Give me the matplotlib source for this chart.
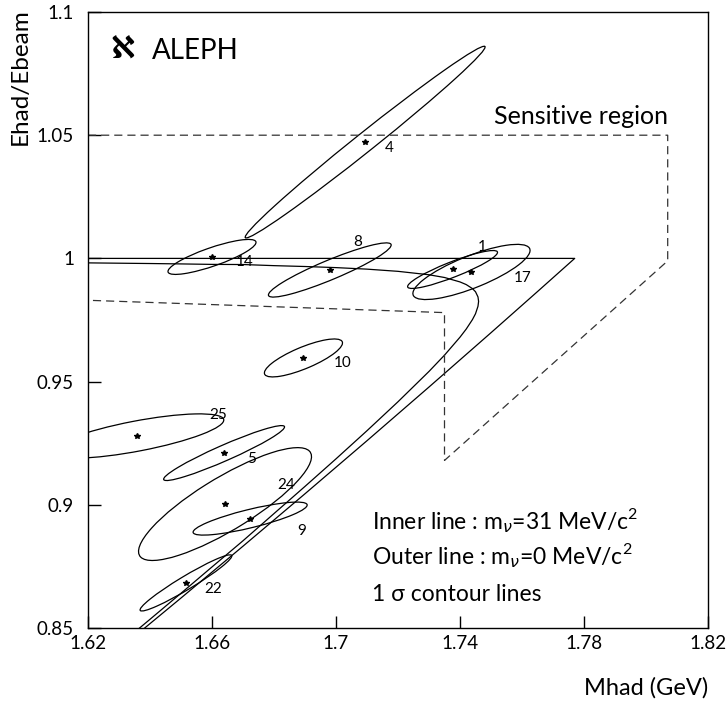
import numpy as np
import matplotlib
matplotlib.use("Agg")
import matplotlib.pyplot as plt
from matplotlib.patches import Ellipse

plt.rcParams['font.family'] = ['Lato', 'DejaVu Sans']
plt.rcParams['mathtext.fontset'] = 'custom'
plt.rcParams['mathtext.rm'] = 'Lato'
plt.rcParams['mathtext.it'] = 'DejaVu Sans:italic'

# ---- events: star = fit, ellipse = 1 sigma contour ----
ev_id = ['4', '14', '8', '1', '17', '10', '25', '5', '24', '9', '22']
ev_m = [1.7094, 1.6600, 1.6980, 1.7376, 1.7437, 1.6895, 1.6358, 1.6639, 1.6642, 1.6723, 1.6516]
ev_e = [1.0472, 1.0006, 0.9953, 0.9955, 0.9945, 0.9596, 0.9279, 0.9210, 0.9003, 0.8944, 0.8683]
ev_sm = [0.0387, 0.0142, 0.0198, 0.0145, 0.0189, 0.0126, 0.0280, 0.0195, 0.0279, 0.0184, 0.0148]
ev_se = [0.0389, 0.0071, 0.0110, 0.0077, 0.0112, 0.0077, 0.0090, 0.01115, 0.0229, 0.0067, 0.0114]
ev_rho = [0.992, 0.83, 0.92, 0.90, 0.78, 0.79, 0.72, 0.95, 0.84, 0.82, 0.96]
lab_m = [1.7171, 1.6706, 1.7071, 1.7471, 1.7603, 1.7023, 1.6619, 1.6729, 1.6839, 1.6890, 1.6603]
lab_e = [1.0448, 0.9985, 1.0067, 1.0046, 0.9920, 0.9575, 0.9364, 0.9186, 0.9080, 0.8894, 0.8658]

# ---- kinematic limits ----
# outer line: m_nu = 0
out_m = [1.62, 1.777, 1.765, 1.75, 1.73, 1.71, 1.69, 1.67, 1.65, 1.635]
out_e = [1.0, 1.0, 0.98654, 0.96984, 0.94780, 0.92601, 0.90448, 0.88320, 0.86217, 0.84657]
# inner line: m_nu = 31 MeV
in_m = [1.62, 1.64, 1.65, 1.66, 1.67, 1.68, 1.69, 1.70, 1.71, 1.72, 1.73, 1.735, 1.74, 1.742,
        1.744, 1.745, 1.7458, 1.746, 1.7458, 1.745, 1.744, 1.742, 1.74, 1.735, 1.73, 1.72,
        1.71, 1.70, 1.69, 1.68, 1.67, 1.66, 1.65, 1.64, 1.63]
in_e = [0.99818, 0.99792, 0.99776, 0.99757, 0.99751, 0.99706, 0.99671, 0.99626, 0.99564, 0.99475,
        0.99336, 0.99225, 0.99045, 0.98938, 0.98776, 0.98647, 0.98437, 0.98255, 0.98057, 0.97753,
        0.97514, 0.97131, 0.96803, 0.96073, 0.95413, 0.94182, 0.93007, 0.91865, 0.90747, 0.89644,
        0.88540, 0.87478, 0.86410, 0.85353, 0.84303]

# sensitive region (dashed)
sens_m = [1.62, 1.807, 1.807, 1.735, 1.735, 1.62]
sens_e = [1.05, 1.05, 0.999, 0.918, 0.978, 0.983]

fig = plt.figure(figsize=(7.26, 7.02), dpi=100)
ax = fig.add_axes([88/726, 74/702, 620/726, 616/702])

lw = 0.9
for i in range(len(ev_id)):
    cov = np.array([[ev_sm[i]**2, ev_rho[i]*ev_sm[i]*ev_se[i]],
                    [ev_rho[i]*ev_sm[i]*ev_se[i], ev_se[i]**2]])
    vals, vecs = np.linalg.eigh(cov)
    ang = np.degrees(np.arctan2(vecs[1, 1], vecs[0, 1]))
    ax.add_patch(Ellipse((ev_m[i], ev_e[i]), 2*np.sqrt(vals[1]), 2*np.sqrt(vals[0]),
                         angle=ang, fill=False, ec='black', lw=lw))
    ax.text(lab_m[i], lab_e[i], ev_id[i], fontsize=11, ha='center', va='center')

ax.plot(ev_m, ev_e, ls='none', marker='*', ms=4, color='black')

ax.plot(out_m, out_e, color='black', lw=lw)
ax.plot(in_m, in_e, color='black', lw=lw)
ax.plot(sens_m, sens_e, color='#333333', lw=lw, ls=(0, (6.5, 4)))

ax.text(1.807, 1.0575, 'Sensitive region', fontsize=18, ha='right', va='center')
ax.text(1.6271, 1.0848, 'ℵ', family=['DejaVu Sans'], fontweight='bold',
        fontsize=22, ha='left', va='center')
ax.text(1.6406, 1.0842, 'ALEPH', fontsize=20, ha='left', va='center')

ax.text(1.7116, 0.8938, r'Inner line : m$_{\nu}$=31 MeV/c$^2$', fontsize=16.5, va='center')
ax.text(1.7116, 0.8796, r'Outer line : m$_{\nu}$=0 MeV/c$^2$', fontsize=16.5, va='center')
ax.text(1.7116, 0.8634, '1 σ contour lines', fontsize=16.5, va='center')

ax.set_xlim(1.62, 1.82)
ax.set_ylim(0.85, 1.1)
ax.set_xticks([1.62, 1.66, 1.7, 1.74, 1.78, 1.82])
ax.set_xticklabels(['1.62', '1.66', '1.7', '1.74', '1.78', '1.82'])
ax.set_yticks([0.85, 0.9, 0.95, 1.0, 1.05, 1.1])
ax.set_yticklabels(['0.85', '0.9', '0.95', '1', '1.05', '1.1'])
ax.tick_params(direction='in', length=9, width=1, labelsize=13.5)
ax.tick_params(axis='y', pad=10)
ax.tick_params(axis='x', pad=5)
for s in ax.spines.values():
    s.set_linewidth(1.0)

fig.text(20/726, 1 - 8/702, 'Ehad/Ebeam', rotation=90, fontsize=17.5, ha='center', va='top')
fig.text(708/726, 1 - 688/702, 'Mhad (GeV)', fontsize=17, ha='right', va='center')

fig.savefig('out.png', dpi=100)
